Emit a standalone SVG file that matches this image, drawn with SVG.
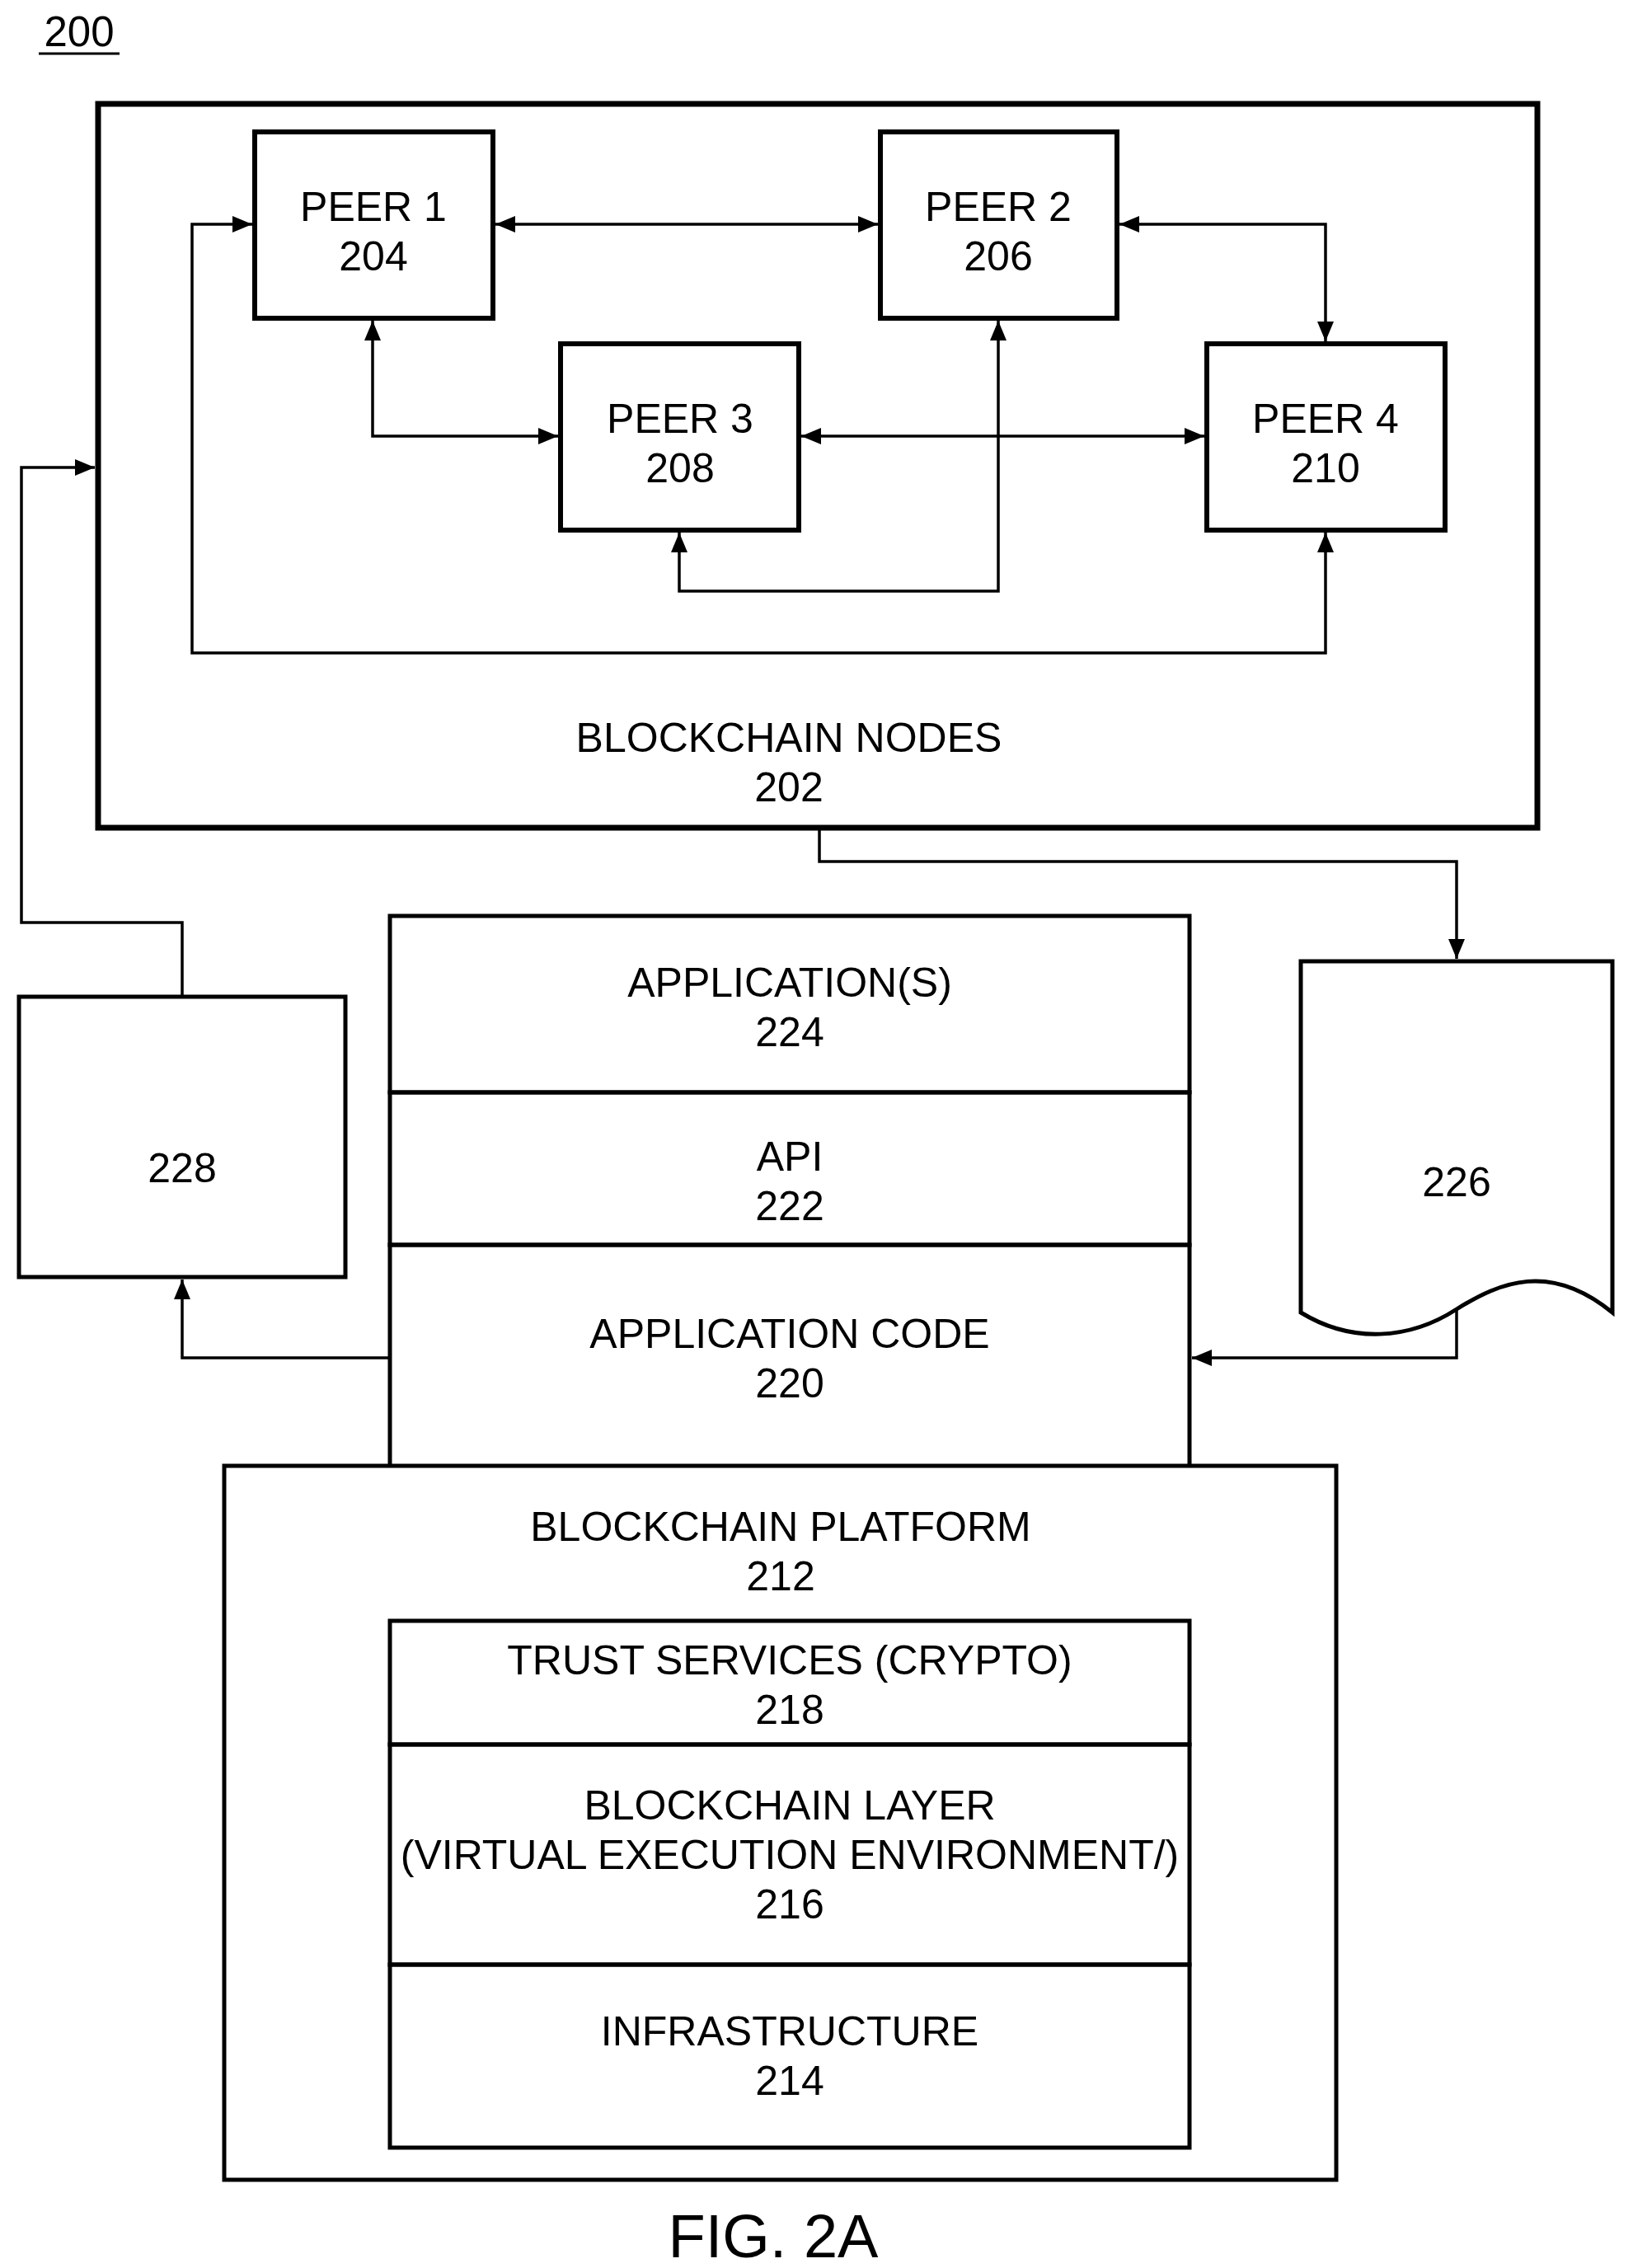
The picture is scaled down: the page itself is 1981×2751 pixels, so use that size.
<svg xmlns="http://www.w3.org/2000/svg" width="1981" height="2751" viewBox="0 0 1981 2751">
<style>
text{font-family:"Liberation Sans",Arial,sans-serif;font-size:50px;fill:#000;text-anchor:middle}
.box{fill:#fff;stroke:#000;stroke-width:6}
.thin{fill:none;stroke:#000;stroke-width:5}
.c{fill:none;stroke:#000;stroke-width:3.5}
</style>
<defs>
<marker id="a" viewBox="0 0 24 20" refX="24" refY="10" markerWidth="24" markerHeight="20" markerUnits="userSpaceOnUse" orient="auto-start-reverse"><path d="M0,0 L24,10 L0,20 Z" fill="#000"/></marker>
</defs>
<text x="96" y="56" style="font-size:51px">200</text>
<line x1="47" y1="65" x2="145" y2="65" stroke="#000" stroke-width="3"/>
<g id="n202"><rect x="119" y="126" width="1746" height="878" class="box" style="stroke-width:7"/><text x="957" y="912">BLOCKCHAIN NODES</text><text x="957" y="972">202</text></g>
<g id="n204"><rect x="309" y="160" width="289" height="226" class="box"/><text x="453" y="268">PEER 1</text><text x="453" y="328">204</text></g>
<g id="n206"><rect x="1068" y="160" width="287" height="226" class="box"/><text x="1211" y="268">PEER 2</text><text x="1211" y="328">206</text></g>
<g id="n208"><rect x="680" y="417" width="289" height="226" class="box"/><text x="825" y="525">PEER 3</text><text x="825" y="585">208</text></g>
<g id="n210"><rect x="1464" y="417" width="289" height="226" class="box"/><text x="1608" y="525">PEER 4</text><text x="1608" y="585">210</text></g>
<g id="n228"><rect x="23" y="1209" width="396" height="340" class="thin"/><text x="221" y="1434">228</text></g>
<g id="n226"><path d="M1578,1166 H1956 V1592 C1880,1530 1820,1555 1767,1588 C1710,1625 1640,1630 1578,1592 Z" class="thin"/><text x="1767" y="1451">226</text></g>
<g id="n224"><rect x="473" y="1111" width="970" height="214" class="thin"/><text x="958" y="1209">APPLICATION(S)</text><text x="958" y="1269">224</text></g>
<g id="n222"><rect x="473" y="1325" width="970" height="185" class="thin"/><text x="958" y="1420">API</text><text x="958" y="1480">222</text></g>
<g id="n220"><path d="M473,1778 V1510 H1443 V1778" class="thin"/><text x="958" y="1635">APPLICATION CODE</text><text x="958" y="1695">220</text></g>
<g id="n212"><rect x="272" y="1778" width="1349" height="866" class="thin"/><text x="947" y="1869">BLOCKCHAIN PLATFORM</text><text x="947" y="1929">212</text></g>
<g id="n218"><rect x="473" y="1966" width="970" height="150" class="thin"/><text x="958" y="2031">TRUST SERVICES (CRYPTO)</text><text x="958" y="2091">218</text></g>
<g id="n216"><rect x="473" y="2116" width="970" height="267" class="thin"/><text x="958" y="2207">BLOCKCHAIN LAYER</text><text x="958" y="2267">(VIRTUAL EXECUTION ENVIRONMENT/)</text><text x="958" y="2327">216</text></g>
<g id="n214"><rect x="473" y="2383" width="970" height="222" class="thin"/><text x="958" y="2481">INFRASTRUCTURE</text><text x="958" y="2541">214</text></g>
<text x="938" y="2738" style="font-size:74px">FIG. 2A</text>
<g id="connectors">
<path d="M601,272 H1065" class="c" marker-start="url(#a)" marker-end="url(#a)"/>
<path d="M1358,272 H1608 V414" class="c" marker-start="url(#a)" marker-end="url(#a)"/>
<path d="M452,389 V529 H677" class="c" marker-start="url(#a)" marker-end="url(#a)"/>
<path d="M972,529 H1461" class="c" marker-start="url(#a)" marker-end="url(#a)"/>
<path d="M824,646 V717 H1211 V389" class="c" marker-start="url(#a)" marker-end="url(#a)"/>
<path d="M306,272 H233 V792 H1608 V646" class="c" marker-start="url(#a)" marker-end="url(#a)"/>
<path d="M994,1007 V1045 H1767 V1163" class="c" marker-end="url(#a)"/>
<path d="M221,1209 V1119 H26 V567 H115" class="c" marker-end="url(#a)"/>
<path d="M473,1647 H221 V1552" class="c" marker-end="url(#a)"/>
<path d="M1767,1588 V1647 H1446" class="c" marker-end="url(#a)"/>
</g>
</svg>
